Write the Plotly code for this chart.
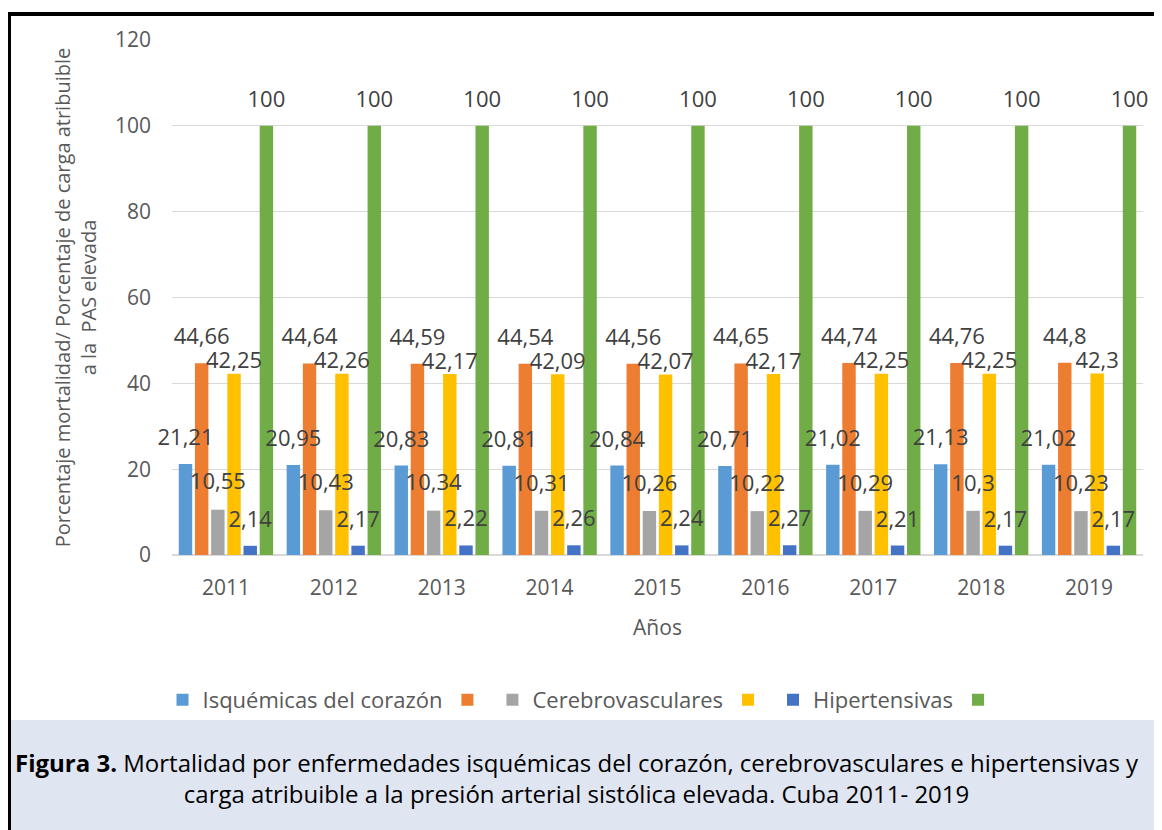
import plotly.graph_objects as go

years = ["2011", "2012", "2013", "2014", "2015", "2016", "2017", "2018", "2019"]

isquemicas = [21.21, 20.95, 20.83, 20.81, 20.84, 20.71, 21.02, 21.13, 21.02]
isquemicas_pas = [44.66, 44.64, 44.59, 44.54, 44.56, 44.65, 44.74, 44.76, 44.8]
cerebro = [10.55, 10.43, 10.34, 10.31, 10.26, 10.22, 10.29, 10.3, 10.23]
cerebro_pas = [42.25, 42.26, 42.17, 42.09, 42.07, 42.17, 42.25, 42.25, 42.3]
hipertensivas = [2.14, 2.17, 2.22, 2.26, 2.24, 2.27, 2.21, 2.17, 2.17]
hipertensivas_pas = [100, 100, 100, 100, 100, 100, 100, 100, 100]

series = [
    ("Isquémicas del corazón", isquemicas, "#5B9BD5", 20),
    ("", isquemicas_pas, "#ED7D31", 20),
    ("Cerebrovasculares", cerebro, "#A5A5A5", 22),
    ("", cerebro_pas, "#FFC000", 0),
    ("Hipertensivas", hipertensivas, "#4472C4", 20),
    ("", hipertensivas_pas, "#70AD47", 20),
]

FONT = "Open Sans"
OFF = 8                      # page body margin
W, H = 1162 - OFF, 830 - OFF
L, R, T, B = 172, 1143, 40, 555   # plot area in screen pixels


def fx(p):
    return (p - L) / (R - L)


def fy(p):
    return (B - p) / (B - T)


def fmt(v):
    return f"{v:g}".replace(".", ",")


fig = go.Figure()
for i, (name, vals, color, msize) in enumerate(series):
    fig.add_trace(go.Bar(
        x=years, y=vals, name=name, marker=dict(color=color, line=dict(width=0)),
        offsetgroup=str(i), hoverinfo="skip",
    ))
for i, (name, vals, color, msize) in enumerate(series):
    fig.add_trace(go.Scatter(
        x=years, y=vals, text=[fmt(v) for v in vals],
        mode="markers+text" if msize else "text",
        marker=dict(size=msize if msize else 1, color="rgba(0,0,0,0)"),
        textposition="top center",
        textfont=dict(family=FONT, size=22, color="#404040"),
        offsetgroup=str(i), showlegend=False, hoverinfo="skip", cliponaxis=False,
    ))

shapes = [
    dict(type="rect", xref="paper", yref="paper", x0=fx(10), x1=fx(1170), y0=fy(720), y1=fy(840),
         fillcolor="#DFE5F1", line=dict(width=0), layer="below"),
    dict(type="rect", xref="paper", yref="paper", x0=fx(0), x1=fx(1170), y0=fy(12), y1=fy(16),
         fillcolor="black", line=dict(width=0)),
    dict(type="rect", xref="paper", yref="paper", x0=fx(0), x1=fx(11), y0=fy(12), y1=fy(840),
         fillcolor="black", line=dict(width=0)),
]

caption = ("<b>Figura 3.</b> Mortalidad por enfermedades isquémicas del corazón, "
           "cerebrovasculares e hipertensivas y<br>"
           "carga atribuible a la presión arterial sistólica elevada. Cuba 2011- 2019")

annotations = [
    dict(text=caption, xref="paper", yref="paper", x=fx(13), y=fy(778), xanchor="left", yanchor="middle",
         align="center", showarrow=False, font=dict(family=FONT, size=24, color="black")),
]

fig.update_layout(
    width=W, height=H,
    margin=dict(l=L - OFF, r=W - (R - OFF), t=T - OFF, b=H - (B - OFF), pad=0),
    paper_bgcolor="white", plot_bgcolor="white",
    barmode="group", bargap=0.1, bargroupgap=0.17,
    scattermode="group", scattergap=0.1,
    separators=",.",
    font=dict(family=FONT, size=20, color="#595959"),
    showlegend=True,
    legend=dict(orientation="h", x=fx(583), xanchor="center", y=fy(700), yanchor="middle",
                font=dict(family=FONT, size=22, color="#595959"), itemwidth=30,
                bgcolor="rgba(0,0,0,0)"),
    xaxis=dict(type="category", showgrid=False, showline=False, ticks="",
               tickfont=dict(family=FONT, size=21, color="#595959"), ticklabelstandoff=18,
               title=dict(text="Años", font=dict(family=FONT, size=21, color="#595959"), standoff=20)),
    yaxis=dict(range=[0, 120], dtick=20, showgrid=True, gridcolor="#D9D9D9", gridwidth=1,
               zeroline=True, zerolinecolor="#D9D9D9", zerolinewidth=2, showline=False, ticks="",
               tickfont=dict(family=FONT, size=21, color="#595959"), ticklabelstandoff=20,
               title=dict(text="Porcentaje mortalidad/ Porcentaje de carga atribuible<br>a la  PAS elevada",
                          font=dict(family=FONT, size=20, color="#595959"), standoff=12)),
    shapes=shapes, annotations=annotations,
)

fig.write_html("out.html")
